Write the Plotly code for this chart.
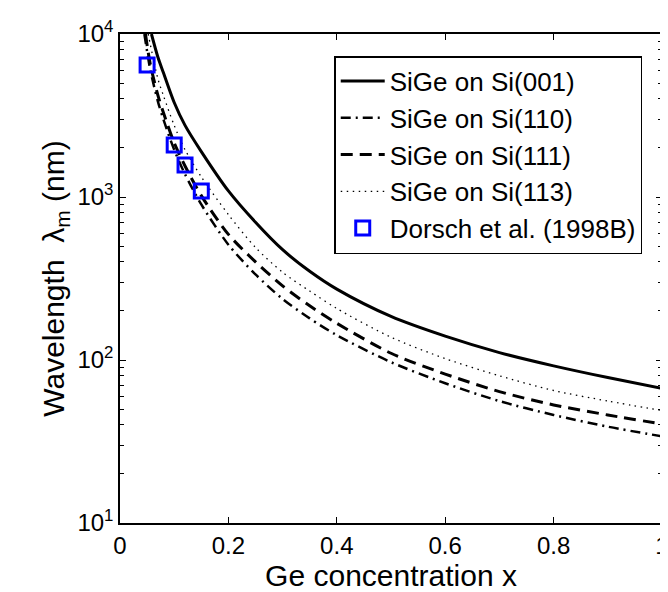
import plotly.graph_objects as go

# --- data ---
x_001 = [0.058, 0.07, 0.08, 0.10, 0.12, 0.15, 0.20, 0.25, 0.30, 0.35, 0.40, 0.50, 0.60, 0.70, 0.80, 0.90, 1.00]
y_001 = [10000, 7200, 5800, 3800, 2750, 1900, 1090, 700, 475, 350, 272, 185, 140, 111, 92, 78, 67]

x_110 = [0.045, 0.056, 0.07, 0.08, 0.10, 0.12, 0.15, 0.20, 0.25, 0.30, 0.35, 0.40, 0.50, 0.60, 0.70, 0.80, 0.90, 1.00]
y_110 = [10000, 6000, 3850, 3000, 1950, 1380, 900, 510, 335, 237, 180, 142, 97, 72, 56, 46, 39, 34]

x_111 = [0.047, 0.056, 0.07, 0.08, 0.10, 0.12, 0.15, 0.20, 0.25, 0.30, 0.35, 0.40, 0.50, 0.60, 0.70, 0.80, 0.90, 1.00]
y_111 = [10000, 6500, 4200, 3300, 2150, 1550, 1020, 590, 400, 285, 215, 168, 110, 82, 64, 53, 46, 40.5]

x_113 = [0.052, 0.056, 0.07, 0.08, 0.10, 0.12, 0.15, 0.20, 0.25, 0.30, 0.35, 0.40, 0.50, 0.60, 0.70, 0.80, 0.90, 1.00]
y_113 = [10000, 8600, 5300, 4200, 2750, 1950, 1330, 780, 490, 345, 265, 207, 138, 102, 80, 65, 56, 49]

x_dorsch = [0.05, 0.10, 0.12, 0.15]
y_dorsch = [6460, 2084, 1571, 1089]

x_ticks = [0, 0.2, 0.4, 0.6, 0.8, 1]
x_tick_labels = ["0", "0.2", "0.4", "0.6", "0.8", "1"]
y_ticks = [10, 100, 1000, 10000]
y_tick_labels = ["10<sup>1</sup>", "10<sup>2</sup>", "10<sup>3</sup>", "10<sup>4</sup>"]
y_minor_ticks = [m * d for d in (10, 100, 1000) for m in range(2, 10)]

FONT = "Arial, 'Liberation Sans', Helvetica, sans-serif"

fig = go.Figure()
fig.add_trace(go.Scatter(x=x_001, y=y_001, mode="lines", name="SiGe on Si(001)",
                         line=dict(color="black", width=3, shape="spline", smoothing=0.8)))
fig.add_trace(go.Scatter(x=x_110, y=y_110, mode="lines", name="SiGe on Si(110)",
                         line=dict(color="black", width=2.5, dash="10px,5px,2px,5px", shape="spline", smoothing=0.8)))
fig.add_trace(go.Scatter(x=x_111, y=y_111, mode="lines", name="SiGe on Si(111)",
                         line=dict(color="black", width=3, dash="12px,7px", shape="spline", smoothing=0.8)))
fig.add_trace(go.Scatter(x=x_113, y=y_113, mode="lines", name="SiGe on Si(113)",
                         line=dict(color="black", width=1.3, dash="1.5px,4.5px", shape="spline", smoothing=0.8)))
fig.add_trace(go.Scatter(x=x_dorsch, y=y_dorsch, mode="markers", name="Dorsch et al. (1998B)",
                         marker=dict(symbol="square-open", size=14, color="#0000ff",
                                     line=dict(color="#0000ff", width=3))))

fig.update_layout(
    width=668, height=592,
    margin=dict(l=112, r=7, t=26, b=77),
    paper_bgcolor="white", plot_bgcolor="white",
    font=dict(family=FONT, size=24, color="black"),
    showlegend=True,
    legend=dict(x=(329 - 112) / 549, y=(515 - 48) / 489, xanchor="left", yanchor="top",
                bgcolor="white", bordercolor="black", borderwidth=1.5,
                font=dict(family=FONT, size=26, color="black"),
                itemwidth=44, tracegroupgap=0),
    xaxis=dict(range=[0, 1], tickvals=x_ticks, ticktext=x_tick_labels,
               ticks="inside", ticklen=6, tickcolor="black", tickwidth=1,
               showline=True, linecolor="black", linewidth=1.5, mirror="ticks",
               showgrid=False, zeroline=False,
               tickfont=dict(size=24),
               title=dict(text="Ge concentration x", font=dict(size=30), standoff=4)),
    yaxis=dict(type="log", range=[1, 4], tickvals=y_ticks, ticktext=y_tick_labels,
               ticks="inside", ticklen=6, tickcolor="black", tickwidth=1,
               showline=True, linecolor="black", linewidth=1.5, mirror="ticks",
               showgrid=False, zeroline=False,
               minor=dict(tickmode="array", tickvals=y_minor_ticks, ticks="inside", ticklen=4,
                          tickcolor="black", tickwidth=1, showgrid=False),
               tickfont=dict(size=24),
               title=dict(text="Wavelength  λ<sub>m</sub> (nm)", font=dict(size=30), standoff=4)),
)

fig.write_html("out.html")
